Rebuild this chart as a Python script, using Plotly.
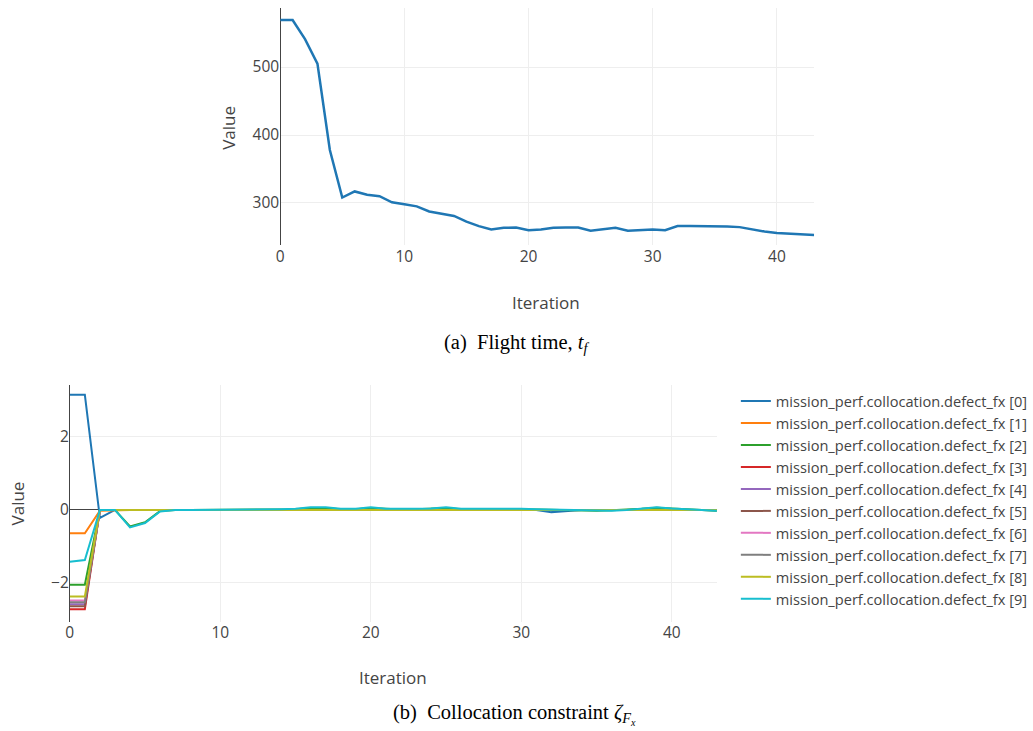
import plotly.graph_objects as go

W, H = 1033, 731

# ---- data ---------------------------------------------------------------
iterations = list(range(44))

flight_time = [569, 569, 541, 505, 378, 308, 317, 312, 310, 301, 298, 295,
               287.5, 284, 281, 272.5, 266, 261, 263.5, 264, 260, 261, 263.5,
               264, 264, 259.3, 261, 263.5, 259.3, 260, 261, 260, 266, 266,
               266, 266, 265.5, 264.5, 261, 258, 256, 255, 254, 253]

defect_names = [f"mission_perf.collocation.defect_fx [{i}]" for i in range(10)]

defect_0 = [3.15, 3.15, -0.22, 0.0, 0.0, 0.0, 0.0, 0.0, 0.0, 0.0, 0.0, 0.0,
            0.0, 0.0, 0.0, 0.0, 0.01, 0.01, 0.0, 0.0, 0.01, 0.0, 0.0, 0.0,
            0.0, 0.01, 0.0, 0.0, 0.01, 0.0, 0.0, 0.0, -0.06, -0.02, 0.0, 0.0,
            0.0, 0.0, 0.01, 0.02, 0.01, 0.0, 0.0, -0.01]
defect_1 = [-0.64, -0.64, -0.02, 0.0, 0.0, 0.0, 0.0, 0.0, 0.0, 0.0, 0.0, 0.0,
            0.0, 0.0, 0.0, 0.0, 0.0, 0.0, 0.0, 0.0, 0.0, 0.0, 0.0, 0.0,
            0.0, 0.0, 0.0, 0.0, 0.0, 0.0, 0.0, 0.0, 0.0, 0.0, 0.0, 0.0,
            0.0, 0.0, 0.0, 0.0, 0.0, 0.0, 0.0, 0.0]
defect_2 = [-2.05, -2.05, 0.0, 0.0, -0.45, -0.34, -0.03, 0.0, 0.0, 0.0, 0.01, 0.0,
            0.0, 0.0, 0.01, 0.02, 0.05, 0.05, 0.02, 0.02, 0.05, 0.02, 0.01, 0.02,
            0.03, 0.05, 0.02, 0.02, 0.04, 0.02, 0.02, 0.01, 0.0, 0.0, -0.02, -0.02,
            -0.01, 0.0, 0.03, 0.06, 0.03, 0.02, 0.0, -0.02]
defect_3 = [-2.72, -2.72, 0.0, 0.0, 0.0, 0.0, 0.0, 0.0, 0.0, 0.0, 0.0, 0.0,
            0.0, 0.0, 0.0, 0.0, 0.0, 0.0, 0.0, 0.0, 0.0, 0.0, 0.0, 0.0,
            0.0, 0.0, 0.0, 0.0, 0.0, 0.0, 0.0, 0.0, 0.0, 0.0, 0.0, 0.0,
            0.0, 0.0, 0.0, 0.0, 0.0, 0.0, 0.0, 0.0]
defect_4 = [-2.58, -2.58, 0.0, 0.0, 0.0, 0.0, 0.0, 0.0, 0.0, 0.0, 0.0, 0.0,
            0.0, 0.0, 0.0, 0.0, 0.0, 0.0, 0.0, 0.0, 0.0, 0.0, 0.0, 0.0,
            0.0, 0.0, 0.0, 0.0, 0.0, 0.0, 0.0, 0.0, 0.0, 0.0, 0.0, 0.0,
            0.0, 0.0, 0.0, 0.0, 0.0, 0.0, 0.0, 0.0]
defect_5 = [-2.64, -2.64, 0.0, 0.0, 0.0, 0.0, 0.0, 0.0, 0.0, 0.0, 0.0, 0.0,
            0.0, 0.0, 0.0, 0.0, 0.0, 0.0, 0.0, 0.0, 0.0, 0.0, 0.0, 0.0,
            0.0, 0.0, 0.0, 0.0, 0.0, 0.0, 0.0, 0.0, 0.0, 0.0, 0.0, 0.0,
            0.0, 0.0, 0.0, 0.0, 0.0, 0.0, 0.0, 0.0]
defect_6 = [-2.48, -2.48, 0.0, 0.0, 0.0, 0.0, 0.0, 0.0, 0.0, 0.0, 0.0, 0.0,
            0.0, 0.0, 0.0, 0.0, 0.0, 0.0, 0.0, 0.0, 0.0, 0.0, 0.0, 0.0,
            0.0, 0.0, 0.0, 0.0, 0.0, 0.0, 0.0, 0.0, 0.0, 0.0, 0.0, 0.0,
            0.0, 0.0, 0.0, 0.0, 0.0, 0.0, 0.0, 0.0]
defect_7 = [-2.53, -2.53, 0.0, 0.0, 0.0, 0.0, 0.0, 0.0, 0.0, 0.0, 0.0, 0.0,
            0.0, 0.0, 0.0, 0.0, 0.0, 0.0, 0.0, 0.0, 0.0, 0.0, 0.0, 0.0,
            0.0, 0.0, 0.0, 0.0, 0.0, 0.0, 0.0, 0.0, 0.0, 0.0, 0.0, 0.0,
            0.0, 0.0, 0.0, 0.0, 0.0, 0.0, 0.0, 0.0]
defect_8 = [-2.37, -2.37, 0.0, 0.0, 0.0, 0.0, 0.0, 0.0, 0.0, 0.0, 0.0, 0.0,
            0.0, 0.0, 0.0, 0.0, 0.0, 0.0, 0.0, 0.0, 0.0, 0.0, 0.0, 0.0,
            0.0, 0.0, 0.0, 0.0, 0.0, 0.0, 0.0, 0.0, 0.0, 0.0, 0.0, 0.0,
            0.0, 0.0, 0.0, 0.0, 0.0, 0.0, 0.0, 0.0]
defect_9 = [-1.42, -1.37, 0.0, 0.0, -0.48, -0.36, -0.04, 0.0, 0.0, 0.0, 0.01, 0.01,
            0.02, 0.01, 0.02, 0.03, 0.07, 0.07, 0.03, 0.03, 0.07, 0.03, 0.02, 0.03,
            0.04, 0.07, 0.03, 0.03, 0.05, 0.03, 0.03, 0.02, 0.01, 0.0, -0.02, -0.03,
            -0.02, 0.0, 0.04, 0.07, 0.04, 0.03, 0.0, -0.02]

defects = [defect_0, defect_1, defect_2, defect_3, defect_4,
           defect_5, defect_6, defect_7, defect_8, defect_9]

colors = ["#1f77b4", "#ff7f0e", "#2ca02c", "#d62728", "#9467bd",
          "#8c564b", "#e377c2", "#7f7f7f", "#bcbd22", "#17becf"]


def px_x(p):
    return p / W


def px_y(p):
    return 1 - p / H


FONT = "Open Sans"
SERIF = "Liberation Serif"
TXT = "#444"

fig = go.Figure()

# (a) flight time
fig.add_trace(go.Scatter(x=iterations, y=flight_time, mode="lines",
                         line=dict(color="#1f77b4", width=2.5),
                         xaxis="x", yaxis="y", showlegend=False))

# (b) collocation defects
for name, vals, col in zip(defect_names, defects, colors):
    fig.add_trace(go.Scatter(x=iterations, y=vals, mode="lines", name=name,
                             line=dict(color=col, width=2),
                             xaxis="x2", yaxis="y2"))

axis_common = dict(showgrid=True, gridcolor="#eee", zeroline=True,
                   zerolinecolor="#444", zerolinewidth=1, showline=False,
                   ticks="", tickfont=dict(family=FONT, size=15.5, color=TXT))

fig.update_layout(
    width=W, height=H,
    margin=dict(l=0, r=0, t=0, b=0),
    paper_bgcolor="white", plot_bgcolor="white",
    template="none",
    font=dict(family=FONT, color=TXT),
    xaxis=dict(domain=[px_x(281), px_x(816.5)], range=[0, 43], anchor="y",
               dtick=10, **axis_common),
    yaxis=dict(domain=[px_y(245), px_y(8)], range=[238.2, 586.8], anchor="x",
               dtick=100, **axis_common),
    xaxis2=dict(domain=[px_x(70), px_x(719)], range=[0, 43], anchor="y2",
                dtick=10, **axis_common),
    yaxis2=dict(domain=[px_y(621.7), px_y(385)], range=[-3.06, 3.42],
                anchor="x2", dtick=2, **axis_common),
    legend=dict(x=px_x(738), y=px_y(385), xanchor="left", yanchor="top",
                font=dict(family=FONT, size=14.6, color=TXT),
                bgcolor="rgba(0,0,0,0)", tracegroupgap=0),
    showlegend=True,
)

annotations = [
    dict(text="Value", x=px_x(228.5), y=px_y(128), textangle=-90),
    dict(text="Iteration", x=px_x(548), y=px_y(303)),
    dict(text="Value", x=px_x(18.5), y=px_y(503), textangle=-90),
    dict(text="Iteration", x=px_x(394.5), y=px_y(677)),
]
for a in annotations:
    a.update(xref="paper", yref="paper", showarrow=False,
             xanchor="center", yanchor="middle",
             font=dict(family=FONT, size=17, color=TXT))

captions = [
    dict(text="(a)  Flight time, <i>t<sub>f</sub></i>",
         x=px_x(519), y=px_y(343)),
    dict(text="(b)  Collocation constraint <i>ζ<sub>F<sub>x</sub></sub></i>",
         x=px_x(516), y=px_y(714)),
]
for c in captions:
    c.update(xref="paper", yref="paper", showarrow=False,
             xanchor="center", yanchor="middle",
             font=dict(family=SERIF, size=20.5, color="#000"))

fig.update_layout(annotations=annotations + captions)

fig.write_html("out.html")
